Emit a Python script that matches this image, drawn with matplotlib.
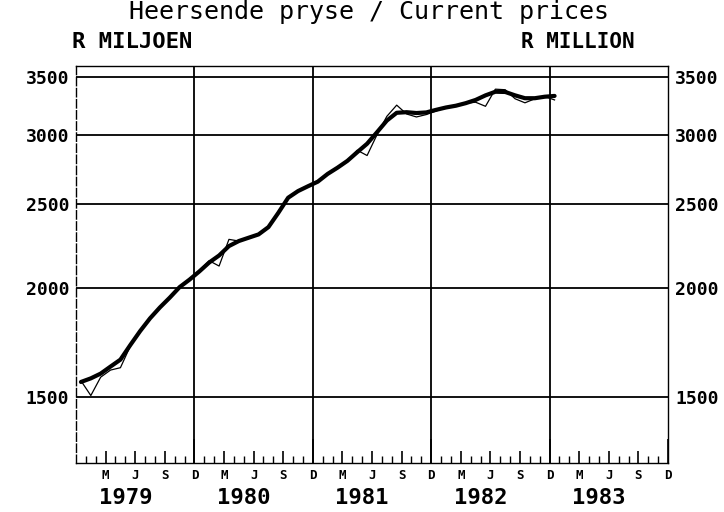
import numpy as np
import matplotlib
matplotlib.use('Agg')
import matplotlib.pyplot as plt
from matplotlib.ticker import FixedLocator, NullLocator, FixedFormatter

# monthly data Jan 1979 .. Jan 1983 (R million, current prices)
trend = [1560, 1575, 1595, 1625, 1655, 1720, 1785, 1846, 1900, 1950, 2005, 2045,
         2090, 2140, 2180, 2235, 2265, 2285, 2305, 2350, 2440, 2540, 2585, 2618,
         2650, 2705, 2750, 2800, 2865, 2930, 3020, 3115, 3180, 3185, 3178, 3183,
         3205, 3225, 3240, 3262, 3290, 3330, 3362, 3360, 3330, 3305, 3305, 3318,
         3325]
actual = [1565, 1505, 1580, 1610, 1620, 1715, 1790, 1850, 1895, 1955, 2000, 2050,
          2095, 2150, 2120, 2275, 2265, 2280, 2310, 2345, 2450, 2535, 2590, 2615,
          2655, 2705, 2745, 2805, 2880, 2840, 3000, 3150, 3245, 3170, 3145, 3165,
          3195, 3225, 3240, 3262, 3270, 3235, 3385, 3380, 3300, 3265, 3300, 3320,
          3290]
years = [1979, 1980, 1981, 1982, 1983]
month_labels = ['M', 'J', 'S', 'D']
y_ticks = [1500, 2000, 2500, 3000, 3500]

mono = 'DejaVu Sans Mono'

fig = plt.figure(figsize=(7.24, 5.12), dpi=100)
ax = fig.add_axes([0.105, 0.0957, 0.8177, 0.7754])

x = np.arange(len(trend)) + 0.5
ax.plot(x, actual, color='black', lw=0.9)
ax.plot(x, trend, color='black', lw=3.0, solid_capstyle='round')

ax.set_yscale('log')
ax.set_ylim(1259, 3599)
ax.set_xlim(0, 12 * len(years))

# grid
for v in y_ticks:
    ax.axhline(v, color='black', lw=1.3)
for k in range(1, len(years)):
    ax.axvline(12 * k, color='black', lw=1.3)

ax.yaxis.set_major_locator(FixedLocator(y_ticks))
ax.yaxis.set_major_formatter(FixedFormatter([str(v) for v in y_ticks]))
ax.yaxis.set_minor_locator(NullLocator())
ax.tick_params(axis='y', length=0, labelleft=True, labelright=True, pad=20)
ax.tick_params(axis='y', which='major', labelsize=13)
for lab in ax.get_yticklabels():
    lab.set_fontfamily(mono)
    lab.set_fontweight('bold')
for t in ax.yaxis.get_major_ticks():
    t.label2.set_fontfamily(mono)
    t.label2.set_fontweight('bold')
    t.label2.set_fontsize(13)
    t.set_pad(5)

# x ticks: quarters labelled, months minor
qpos = np.arange(3, 12 * len(years) + 1, 3)
ax.xaxis.set_major_locator(FixedLocator(qpos))
ax.xaxis.set_major_formatter(FixedFormatter([month_labels[i % 4] for i in range(len(qpos))]))
ax.xaxis.set_minor_locator(FixedLocator(np.arange(1, 12 * len(years))))
ax.tick_params(axis='x', which='major', direction='in', length=9, width=1.2,
               labelsize=9, pad=4)
ax.tick_params(axis='x', which='minor', direction='in', length=5, width=1.0)
for i, t in enumerate(ax.xaxis.get_major_ticks()):
    if i % 4 == 3:
        t.tick1line.set_markersize(17)
    t.label1.set_fontfamily(mono)
    t.label1.set_fontweight('bold')

for i, yr in enumerate(years):
    ax.text(12 * i + 5, -0.088, str(yr), transform=ax.get_xaxis_transform(),
            ha='center', va='center', fontsize=16, fontweight='bold', family=mono)

for s in ax.spines.values():
    s.set_linewidth(1.0)
ax.spines['left'].set_linestyle((0, (6, 2)))

fig.text(0.509, 0.977, 'Heersende pryse / Current prices', ha='center', va='center',
         fontsize=18, family=mono)
fig.text(0.1, 0.918, 'R MILJOEN', ha='left', va='center', fontsize=16,
         fontweight='bold', family=mono)
fig.text(0.877, 0.918, 'R MILLION', ha='right', va='center', fontsize=15,
         fontweight='bold', family=mono)

fig.savefig('out.png', dpi=100, facecolor='white')
